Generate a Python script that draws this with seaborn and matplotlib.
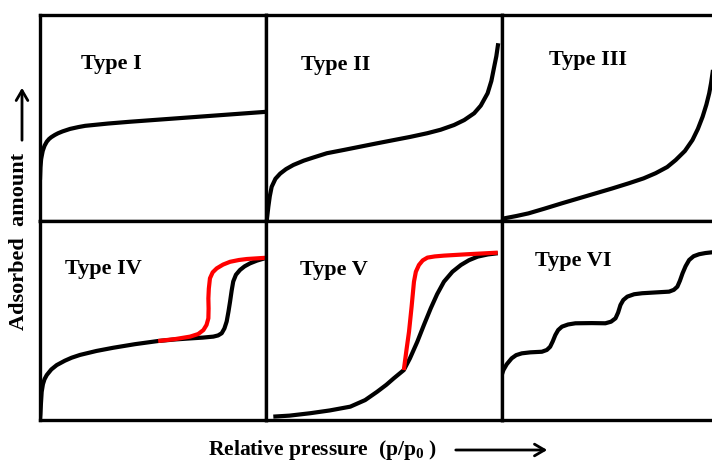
import matplotlib
matplotlib.use("Agg")
import matplotlib.pyplot as plt
import seaborn as sns
from matplotlib.patches import FancyArrowPatch

sns.set_style("white")
plt.rcParams["font.family"] = ["Liberation Serif", "DejaVu Serif"]
plt.rcParams["font.weight"] = "bold"
plt.rcParams["text.color"] = "black"
plt.rcParams["mathtext.default"] = "regular"

# ---- data (normalized relative pressure / adsorbed amount) ----
type1_x = [0.0, 0.002, 0.005, 0.0075, 0.012, 0.02, 0.03, 0.04, 0.05, 0.066, 0.08, 0.1, 0.133, 0.17, 0.2,
           0.3, 0.4, 0.5, 0.6, 0.7, 0.8, 0.9, 1.0]
type1_y = [0.20, 0.26, 0.30, 0.315, 0.34, 0.365, 0.385, 0.398, 0.407, 0.418, 0.426, 0.435, 0.447, 0.456, 0.462,
           0.473, 0.482, 0.49, 0.498, 0.506, 0.514, 0.522, 0.53]

type2_x = [0.003, 0.006, 0.01, 0.016, 0.024, 0.04, 0.06, 0.085, 0.116, 0.16, 0.2, 0.258, 0.33, 0.4, 0.47, 0.542,
           0.61, 0.683, 0.74, 0.797, 0.84, 0.882, 0.91, 0.939, 0.955, 0.967, 0.976, 0.984]
type2_y = [0.0, 0.03, 0.07, 0.12, 0.166, 0.205, 0.23, 0.252, 0.272, 0.293, 0.308, 0.329, 0.345, 0.361, 0.377, 0.393,
           0.408, 0.426, 0.443, 0.466, 0.49, 0.523, 0.56, 0.62, 0.68, 0.749, 0.80, 0.863]

type3_x = [0.0, 0.01, 0.06, 0.112, 0.18, 0.254, 0.325, 0.396, 0.467, 0.537, 0.6, 0.651, 0.70, 0.736, 0.775, 0.807,
           0.83, 0.85, 0.866, 0.878, 0.886, 0.892, 0.9, 0.907, 0.915]
type3_y = [0.0, 0.013, 0.024, 0.037, 0.06, 0.086, 0.11, 0.134, 0.158, 0.183, 0.207, 0.232, 0.262, 0.296, 0.34, 0.393,
           0.447, 0.506, 0.565, 0.62, 0.67, 0.717, 0.78, 0.85, 0.92]

type4_ads_x = [0.0, 0.002, 0.004, 0.0075, 0.013, 0.02, 0.03, 0.05, 0.074, 0.11, 0.14, 0.177, 0.25, 0.324, 0.42, 0.523,
               0.6, 0.664, 0.72, 0.767, 0.788, 0.804, 0.816, 0.826, 0.834, 0.841, 0.848, 0.855, 0.867, 0.885, 0.905,
               0.929, 0.96, 0.996]
type4_ads_y = [0.0, 0.03, 0.08, 0.142, 0.18, 0.205, 0.226, 0.254, 0.276, 0.298, 0.313, 0.327, 0.347, 0.363, 0.381, 0.397,
               0.405, 0.41, 0.414, 0.419, 0.425, 0.436, 0.46, 0.495, 0.545, 0.595, 0.65, 0.696, 0.73, 0.754, 0.772,
               0.787, 0.801, 0.813]
type4_des_x = [0.523, 0.6, 0.664, 0.70, 0.723, 0.737, 0.745, 0.746, 0.745, 0.747, 0.752, 0.764, 0.782, 0.81, 0.841,
               0.88, 0.915, 0.996]
type4_des_y = [0.397, 0.407, 0.419, 0.432, 0.452, 0.478, 0.511, 0.56, 0.611, 0.66, 0.712, 0.742, 0.762, 0.781, 0.795,
               0.804, 0.809, 0.815]

type5_ads_x = [0.031, 0.1, 0.187, 0.27, 0.357, 0.42, 0.471, 0.51, 0.542, 0.584, 0.61, 0.641, 0.67, 0.698, 0.725, 0.754,
               0.79, 0.826, 0.86, 0.897, 0.94, 0.982]
type5_ads_y = [0.017, 0.022, 0.034, 0.048, 0.067, 0.1, 0.142, 0.177, 0.21, 0.251, 0.31, 0.393, 0.48, 0.561, 0.632, 0.695,
               0.745, 0.779, 0.803, 0.821, 0.832, 0.838]
type5_des_x = [0.584, 0.595, 0.606, 0.617, 0.627, 0.635, 0.648, 0.664, 0.684, 0.715, 0.754, 0.854, 0.982]
type5_des_y = [0.251, 0.35, 0.444, 0.57, 0.695, 0.745, 0.779, 0.802, 0.816, 0.822, 0.826, 0.833, 0.841]

type6_x = [0.0, 0.006, 0.02, 0.041, 0.06, 0.084, 0.12, 0.169, 0.19, 0.204, 0.215, 0.226, 0.238, 0.254, 0.28, 0.311,
           0.38, 0.438, 0.462, 0.481, 0.492, 0.502, 0.514, 0.531, 0.56, 0.594, 0.65, 0.708, 0.728, 0.743, 0.754,
           0.765, 0.778, 0.793, 0.812, 0.835, 0.862, 0.892, 0.95, 1.0]
type6_y = [0.23, 0.251, 0.28, 0.31, 0.326, 0.335, 0.34, 0.343, 0.352, 0.368, 0.395, 0.427, 0.452, 0.469, 0.48, 0.486,
           0.487, 0.486, 0.494, 0.511, 0.54, 0.578, 0.603, 0.62, 0.632, 0.637, 0.641, 0.645, 0.654, 0.67, 0.7,
           0.737, 0.773, 0.804, 0.823, 0.833, 0.839, 0.843, 0.846, 0.848]

labels = ["Type I", "Type II", "Type III", "Type IV", "Type V", "Type VI"]
xlabel = "Relative pressure  (p/p$_{0}$ )"
ylabel = "Adsorbed  amount"

W, H = 712, 461
fig = plt.figure(figsize=(W / 100, H / 100), dpi=100)

def add_panel(px_left, px_top, px_w, px_h):
    ax = fig.add_axes([px_left / W, 1 - (px_top + px_h) / H, px_w / W, px_h / H])
    ax.set_xlim(0, 1)
    ax.set_ylim(0, 1)
    ax.set_xticks([])
    ax.set_yticks([])
    for s in ax.spines.values():
        s.set_linewidth(2.4)
        s.set_color("black")
    return ax

cols = [(40, 226), (266, 236), (502, 236)]
rows = [(15, 206), (221, 199)]

panels = {}
for r, (top, h) in enumerate(rows):
    for c, (left, w) in enumerate(cols):
        panels[(r, c)] = add_panel(left, top, w, h)

LW = 3.0
def curve(ax, x, y, color="black"):
    sns.lineplot(x=x, y=y, ax=ax, sort=False, estimator=None, color=color, lw=LW,
                 solid_joinstyle="round", solid_capstyle="butt")

curve(panels[(0, 0)], type1_x, type1_y)
curve(panels[(0, 1)], type2_x, type2_y)
curve(panels[(0, 2)], type3_x, type3_y)
curve(panels[(1, 0)], type4_ads_x, type4_ads_y)
curve(panels[(1, 0)], type4_des_x, type4_des_y, color="#ff0000")
curve(panels[(1, 1)], type5_ads_x, type5_ads_y)
curve(panels[(1, 1)], type5_des_x, type5_des_y, color="#ff0000")
curve(panels[(1, 2)], type6_x, type6_y)

for ax in panels.values():
    ax.set_xlabel("")
    ax.set_ylabel("")

label_pos = [(81, 64), (301, 65), (549, 60), (65, 269), (300, 270), (535, 261)]
for txt, (px, py) in zip(labels, label_pos):
    fig.text(px / W, 1 - py / H, txt, ha="left", va="center", fontsize=16, fontweight="bold", color="black")

fig.text(208 / W, 1 - 450 / H, xlabel, ha="left", va="center", fontsize=15.5, fontweight="bold", color="black")
fig.text(19 / W, 1 - 241 / H, ylabel, ha="center", va="center", rotation=90, fontsize=16, fontweight="bold",
         color="black")

fig.add_artist(FancyArrowPatch((453 / W, 1 - 450 / H), (550 / W, 1 - 450 / H),
                               transform=fig.transFigure, arrowstyle="->,head_length=0.6,head_width=0.35",
                               lw=2, color="black", mutation_scale=12))
fig.add_artist(FancyArrowPatch((22 / W, 1 - 143 / H), (22 / W, 1 - 85 / H),
                               transform=fig.transFigure, arrowstyle="->,head_length=0.6,head_width=0.35",
                               lw=2, color="black", mutation_scale=12))

fig.savefig("out.png", dpi=100)
